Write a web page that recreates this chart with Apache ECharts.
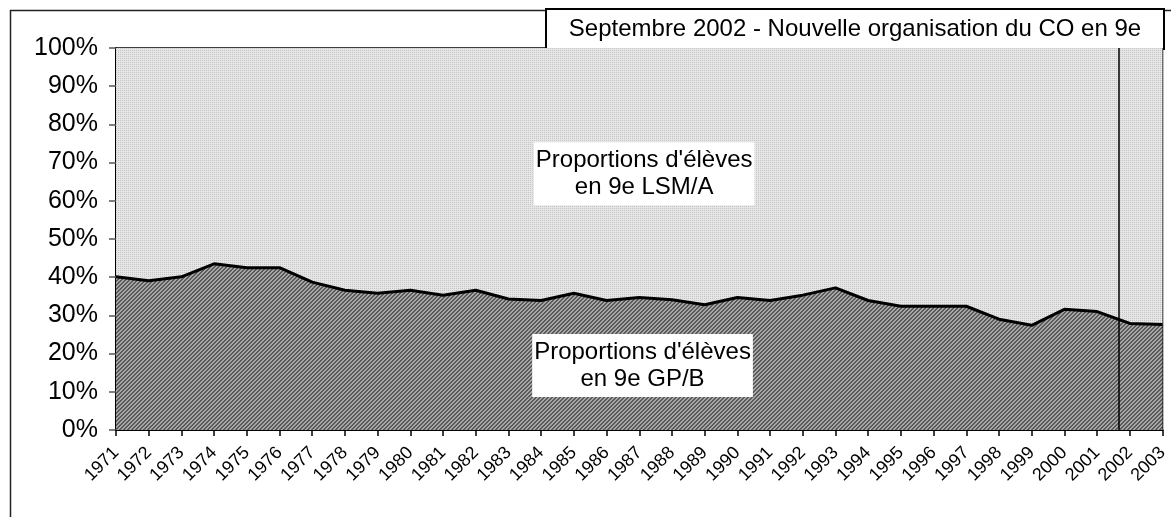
<!DOCTYPE html>
<html>
<head>
<meta charset="utf-8">
<script src="https://cdn.jsdelivr.net/npm/echarts@6/dist/echarts.min.js"></script>
<style>
html,body{margin:0;padding:0;background:#fff;}
#chart{width:1171px;height:517px;}
</style>
</head>
<body>
<div id="chart"></div>
<script>
const years = ['1971','1972','1973','1974','1975','1976','1977','1978','1979','1980','1981','1982','1983','1984','1985','1986','1987','1988','1989','1990','1991','1992','1993','1994','1995','1996','1997','1998','1999','2000','2001','2002','2003'];
const gpB = [40.1,39.1,40.1,43.5,42.5,42.5,38.7,36.6,35.8,36.6,35.3,36.6,34.3,33.9,35.8,33.9,34.7,34.1,32.8,34.7,33.9,35.3,37.2,33.9,32.4,32.4,32.4,29.0,27.4,31.6,31.0,27.9,27.6];
const lsmA = [59.9,60.9,59.9,56.5,57.5,57.5,61.3,63.4,64.2,63.4,64.7,63.4,65.7,66.1,64.2,66.1,65.3,65.9,67.2,65.3,66.1,64.7,62.8,66.1,67.6,67.6,67.6,71.0,72.6,68.4,69.0,72.1,72.4];
const yTicks = [0,10,20,30,40,50,60,70,80,90,100];
const reformDate = 2001.67;
const titleText = 'Septembre 2002 - Nouvelle organisation du CO en 9e';
const labelUpper = "Proportions d'élèves\nen 9e LSM/A";
const labelLower = "Proportions d'élèves\nen 9e GP/B";

function makeTile(bg, fg, fn){
  const c = document.createElement('canvas');
  c.width = 4; c.height = 4;
  const g = c.getContext('2d');
  g.fillStyle = bg; g.fillRect(0,0,4,4);
  g.fillStyle = fg;
  for(let y=0;y<4;y++) for(let x=0;x<4;x++) if(fn(x,y)) g.fillRect(x,y,1,1);
  return c;
}
const upperTile = makeTile('#e6e6e6','#c4c4c4',(x,y)=> (x%2===0 && y%2===0));
const lowerTile = makeTile('#a6a6a6','#5a5a5a',(x,y)=> ((x+y)%4<2));

const FONT = 'Liberation Sans, Arial, sans-serif';
const chart = echarts.init(document.getElementById('chart'), null, {renderer:'canvas'});
chart.setOption({
  animation:false,
  backgroundColor:'#fff',
  grid:{left:116,right:8,top:48,bottom:87,show:true,borderColor:'#000',borderWidth:1.5,backgroundColor:'transparent',containLabel:false},
  xAxis:[{
    type:'category',data:years,boundaryGap:false,
    axisLine:{lineStyle:{color:'#000',width:2}},
    axisTick:{show:true,interval:0,length:6,lineStyle:{color:'#000',width:1.5}},
    axisLabel:{interval:0,rotate:45,fontSize:18,fontFamily:FONT,color:'#000',margin:20},
    splitLine:{show:false}
  },{
    type:'value',min:1971,max:2003,show:false
  }],
  yAxis:{
    type:'value',min:0,max:100,interval:10,
    axisLine:{show:true,lineStyle:{color:'#000',width:2}},
    axisTick:{show:true,length:7,lineStyle:{color:'#555',width:1.5}},
    axisLabel:{fontSize:25,fontFamily:FONT,color:'#000',margin:18,formatter:'{value}%'},
    splitLine:{show:false}
  },
  series:[{
    name:'GP/B',type:'line',stack:'tot',data:gpB,symbol:'none',
    lineStyle:{color:'#000',width:3},
    areaStyle:{color:{image:lowerTile,repeat:'repeat'},opacity:1},
    z:3
  },{
    name:'LSM/A',type:'line',stack:'tot',data:lsmA,symbol:'none',
    lineStyle:{width:0},
    areaStyle:{color:{image:upperTile,repeat:'repeat'},opacity:1},
    z:2
  },{
    name:'annot',type:'line',xAxisIndex:1,data:[],symbol:'none',z:10,
    markLine:{silent:true,symbol:'none',label:{show:false},lineStyle:{color:'#000',width:1.5,type:'solid'},data:[{xAxis:reformDate}]},
    markPoint:{silent:true,symbol:'rect',symbolSize:0,
      label:{show:true,position:'inside',fontSize:24,lineHeight:27,fontFamily:FONT,color:'#000',backgroundColor:'#fff',padding:[6,2,3,2],align:'center'},
      data:[
        {coord:[1987.15,67.1],label:{formatter:labelUpper}},
        {coord:[1987.1,16.9],label:{formatter:labelLower}}
      ]}
  }],
  graphic:[
    {type:'rect',left:8,top:8,shape:{width:1200,height:600},style:{fill:'none',stroke:'#222',lineWidth:1.5},silent:true,z:-1},
    {type:'group',left:545,top:8,children:[
      {type:'rect',shape:{x:0,y:0,width:618,height:40},style:{fill:'#fff',stroke:'#000',lineWidth:2}},
      {type:'text',x:309,y:20,style:{text:titleText,fontSize:24,fontFamily:FONT,fill:'#000',align:'center',verticalAlign:'middle'}}
    ]}
  ]
});
</script>
</body>
</html>
